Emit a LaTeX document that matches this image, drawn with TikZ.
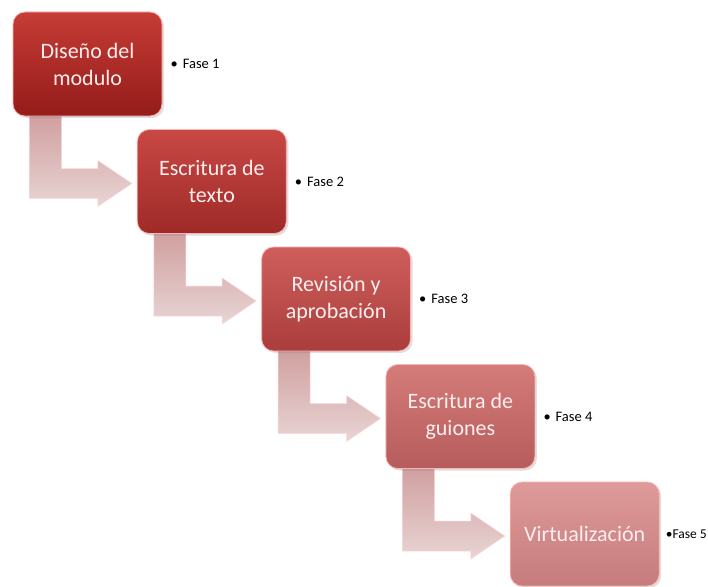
\documentclass[tikz,border=0pt]{standalone}
\usepackage{fontspec}
\setmainfont{Carlito}
\usetikzlibrary{shadows,calc}
\definecolor{b0t}{RGB}{198,60,54}
\definecolor{b0b}{RGB}{148,28,26}
\definecolor{b1t}{RGB}{200,72,68}
\definecolor{b1b}{RGB}{158,42,40}
\definecolor{b2t}{RGB}{206,94,92}
\definecolor{b2b}{RGB}{170,62,60}
\definecolor{b3t}{RGB}{212,124,122}
\definecolor{b3b}{RGB}{182,92,92}
\definecolor{b4t}{RGB}{222,154,154}
\definecolor{b4b}{RGB}{198,124,124}
\definecolor{arrT}{RGB}{208,158,158}
\definecolor{arrM}{RGB}{214,174,174}
\definecolor{arrB}{RGB}{232,212,212}
\definecolor{txtc}{RGB}{252,238,238}
\pgfdeclarelayer{bg}
\pgfsetlayers{bg,main}
\tikzset{
  phasebox/.style={rounded corners=12pt, minimum width=149pt, minimum height=104pt,
    inner sep=0pt, align=center, text=txtc, font=\fontsize{22}{27}\selectfont,
    draw=white!70!red, line width=0.8pt,
    drop shadow={opacity=0.25, shadow xshift=2pt, shadow yshift=-2pt}},
  bentarrow/.style={top color=arrT, middle color=arrM, bottom color=arrB, draw=white!85!red, line width=0.5pt},
  phaselabel/.style={anchor=west, inner sep=0pt, text=black, font=\fontsize{14.5}{17}\selectfont}
}
\begin{document}
\begin{tikzpicture}[x=1pt,y=-1pt]
\useasboundingbox (0,0) rectangle (708,586);
% boxes
\node[phasebox, top color=b0t, bottom color=b0b] (b0) at (87.5,64)  {Diseño del\\modulo};
\node[phasebox, top color=b1t, bottom color=b1b] (b1) at (211.8,181.5) {Escritura de\\texto};
\node[phasebox, top color=b2t, bottom color=b2b] (b2) at (336.1,299) {Revisión y\\aprobación};
\node[phasebox, top color=b3t, bottom color=b3b] (b3) at (460.4,416.5) {Escritura de\\guiones};
\node[phasebox, top color=b4t, bottom color=b4b] (b4) at (584.7,534) {Virtualización};
% white page and bent arrows (behind boxes)
\begin{pgfonlayer}{bg}
\fill[white] (0,0) rectangle (708,586);
\foreach \i/\j in {0/1,1/2,2/3,3/4}{
  \path[bentarrow] let \p1=(b\i.south west), \p2=(b\j.west) in
    (\x1+17pt,\y1+4pt) -- (\x1+49pt,\y1+4pt) -- (\x1+49pt,\y2+13pt) -- (\x2-39pt,\y2+13pt)
    -- (\x2-39pt,\y2+21pt) -- (\x2-5pt,\y2-2pt) -- (\x2-39pt,\y2-25pt) -- (\x2-39pt,\y2-17pt)
    -- (\x1+17pt,\y2-17pt) -- cycle;
}
\end{pgfonlayer}
% labels
\node[phaselabel] (f0) at ($(b0.east)+(8,0)$) {\textbullet\hspace{5pt}Fase 1};
\node[phaselabel] (f1) at ($(b1.east)+(8,0)$) {\textbullet\hspace{5pt}Fase 2};
\node[phaselabel] (f2) at ($(b2.east)+(8,0)$) {\textbullet\hspace{5pt}Fase 3};
\node[phaselabel] (f3) at ($(b3.east)+(8,0)$) {\textbullet\hspace{5pt}Fase 4};
\node[phaselabel, font=\fontsize{13.5}{16}\selectfont] (f4) at ($(b4.east)+(6,0)$) {\textbullet Fase 5};
\end{tikzpicture}
\end{document}
